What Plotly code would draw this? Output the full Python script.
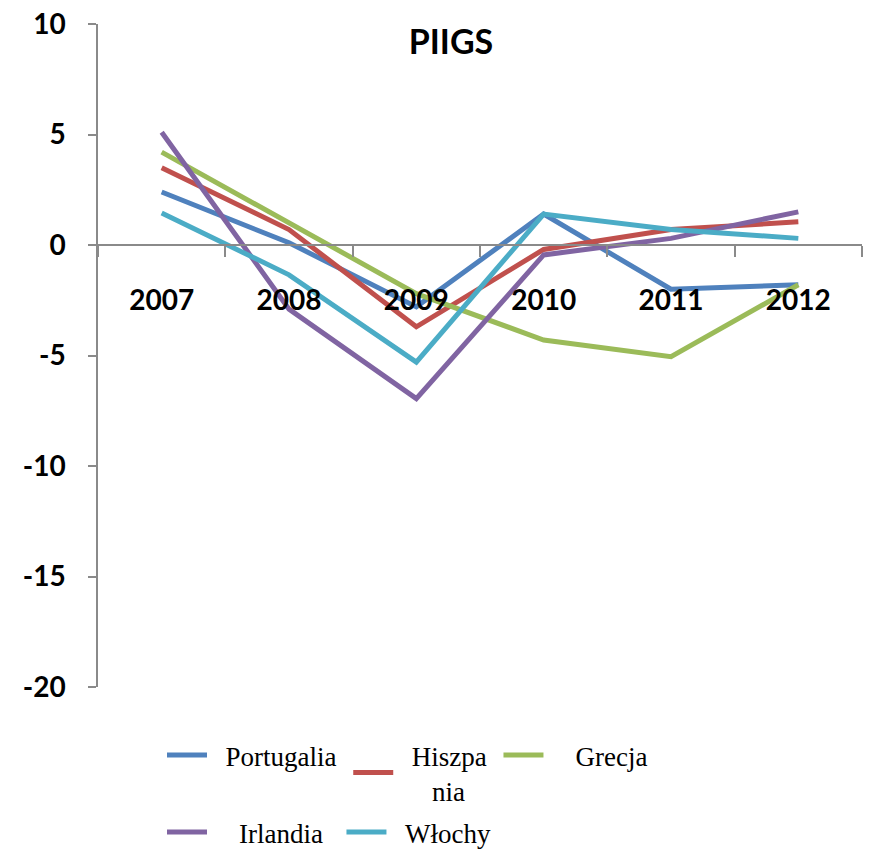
import plotly.graph_objects as go

# Years on the category axis
years = ["2007", "2008", "2009", "2010", "2011", "2012"]

# Annual values per country
portugalia = [2.4, 0.1, -2.8, 1.4, -2.0, -1.8]
hiszpania = [3.5, 0.7, -3.7, -0.2, 0.7, 1.05]
grecja = [4.2, 1.0, -2.2, -4.3, -5.05, -1.8]
irlandia = [5.1, -2.9, -6.95, -0.45, 0.3, 1.5]
wlochy = [1.45, -1.35, -5.3, 1.4, 0.7, 0.3]

# Legend labels (non-breaking spaces keep the gaps between swatch and text)
NB = "\u00a0"
labels = [
    NB * 2 + "Portugalia" + NB,
    NB * 2 + "Hiszpa" + NB + "<br>" + NB * 5 + "nia",
    NB * 4 + "Grecja",
    NB * 4 + "Irlandia" + NB * 2,
    NB * 2 + "Włochy",
]
colors = ["#4F81BD", "#C0504D", "#9BBB59", "#8064A2", "#4BACC6"]
values = [portugalia, hiszpania, grecja, irlandia, wlochy]
# first three entries on the upper legend row, the rest on the lower one
legend_rows = ["legend", "legend", "legend", "legend2", "legend2"]

y_ticks = [10, 5, 0, -5, -10, -15, -20]
y_tick_text = [str(v) for v in y_ticks]

fig = go.Figure()
for name, vals, color, lg in zip(labels, values, colors, legend_rows):
    fig.add_trace(go.Scatter(
        x=years, y=vals, name=name, mode="lines",
        line=dict(color=color, width=5), legend=lg,
    ))

axis_grey = "#8A8A8A"
tick_font = dict(family="Lato", size=28, color="black", weight="bold")
legend_font = dict(family="Liberation Serif", size=27, color="black")

fig.update_layout(
    width=871, height=853,
    margin=dict(l=98, r=9, t=24, b=166, autoexpand=False),
    paper_bgcolor="white", plot_bgcolor="white",
    title=dict(
        text="PIIGS", x=451 / 871, xanchor="center", xref="container",
        y=1 - 42 / 853, yanchor="middle", yref="container",
        font=dict(family="Lato", size=34, color="black", weight="bold"),
    ),
    xaxis=dict(
        type="category", range=[-0.5, 5.5],
        anchor="free", position=2 / 3,
        showline=True, linecolor=axis_grey, linewidth=1.5,
        ticks="outside", tickson="boundaries", ticklen=11,
        tickcolor=axis_grey, tickwidth=1.5,
        showgrid=False, zeroline=False,
        tickfont=tick_font, ticklabelstandoff=31,
    ),
    yaxis=dict(
        range=[-20, 10], tickvals=y_ticks, ticktext=y_tick_text,
        showline=True, linecolor=axis_grey, linewidth=1.5,
        ticks="outside", ticklen=8, tickcolor=axis_grey, tickwidth=1.5,
        showgrid=False, zeroline=False,
        tickfont=tick_font, ticklabelstandoff=17,
    ),
    showlegend=True,
    legend=dict(
        orientation="h", xref="container", yref="container",
        x=162 / 871, xanchor="left", y=1 - 731 / 853, yanchor="top",
        font=legend_font, itemwidth=40, valign="middle",
        bgcolor="rgba(0,0,0,0)",
    ),
    legend2=dict(
        orientation="h", xref="container", yref="container",
        x=162 / 871, xanchor="left", y=1 - 808 / 853, yanchor="top",
        font=legend_font, itemwidth=40, valign="middle",
        bgcolor="rgba(0,0,0,0)",
    ),
)

fig.write_html("out.html")
